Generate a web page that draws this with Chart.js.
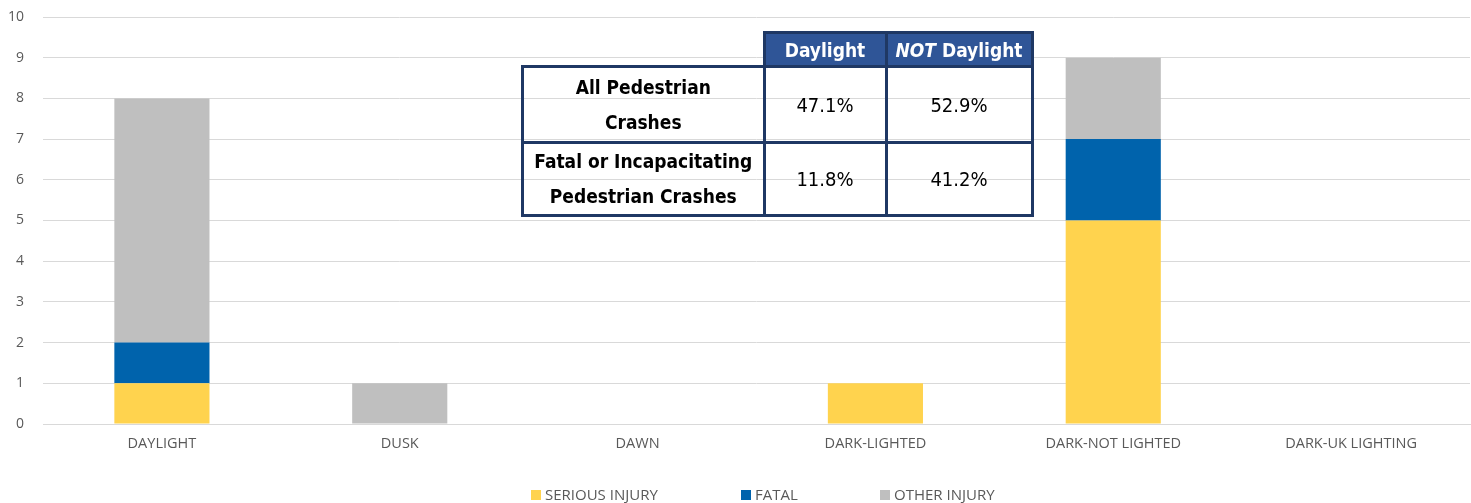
<!DOCTYPE html>
<html><head><meta charset="utf-8">
<script src="https://cdn.jsdelivr.net/npm/chart.js@4/dist/chart.umd.min.js"></script>
<style>
html,body{margin:0;padding:0;background:#fff;}
#wrap{position:relative;width:1471px;height:503px;}
#tbl{position:absolute;left:521px;top:31px;border-collapse:collapse;font-family:"DejaVu Sans Condensed","Liberation Sans Narrow",sans-serif;color:#000;}
#tbl td{border:3px solid #1F3864;text-align:center;padding:0;font-size:20px;}
#tbl td.h{background:#2F5597;color:#fff;font-weight:bold;font-size:19px;height:31px;}
#tbl td.e{border:none;}
#tbl td.r{font-weight:bold;font-size:19px;line-height:35px;}
</style></head>
<body><div id="wrap"><canvas id="c" width="1471" height="503"></canvas>
<table id="tbl">
<tr><td class="e" style="width:240px"></td><td class="h" style="width:119px">Daylight</td><td class="h" style="width:143px"><i>NOT</i> Daylight</td></tr>
<tr><td class="r" style="height:73px">All Pedestrian<br>Crashes</td><td>47.1%</td><td>52.9%</td></tr>
<tr><td class="r" style="height:70px">Fatal or Incapacitating<br>Pedestrian Crashes</td><td>11.8%</td><td>41.2%</td></tr>
</table></div>
<script>
const categories = ["DAYLIGHT","DUSK","DAWN","DARK-LIGHTED","DARK-NOT LIGHTED","DARK-UK LIGHTING"];
const seriousInjury = [1,0,0,1,5,0];
const fatal = [1,0,0,0,2,0];
const otherInjury = [6,1,0,0,2,0];
const seriesNames = ["SERIOUS INJURY","FATAL","OTHER INJURY"];
const seriesColors = ["#FFD34E","#0063AC","#BFBFBF"];
const yTicks = [0,1,2,3,4,5,6,7,8,9,10];

const legendPlugin = {
  id:'customLegend',
  afterDraw(chart){
    const ctx = chart.ctx;
    ctx.save();
    ctx.font = '15px "Open Sans", sans-serif';
    ctx.textBaseline = 'middle';
    const xs = [531, 741, 880];
    const y = 495;
    chart.data.datasets.forEach((ds,i)=>{
      ctx.fillStyle = ds.backgroundColor;
      ctx.fillRect(xs[i], y-5, 10, 10);
      ctx.fillStyle = '#595959';
      ctx.fillText(ds.label, xs[i]+14, y+1);
    });
    ctx.restore();
  }
};

new Chart(document.getElementById('c'), {
  type:'bar',
  data:{
    labels:categories,
    datasets:[
      {label:seriesNames[0], data:seriousInjury, backgroundColor:seriesColors[0]},
      {label:seriesNames[1], data:fatal, backgroundColor:seriesColors[1]},
      {label:seriesNames[2], data:otherInjury, backgroundColor:seriesColors[2]}
    ]
  },
  options:{
    responsive:false, animation:false,
    layout:{padding:{top:17,right:1,left:0,bottom:0}},
    datasets:{bar:{categoryPercentage:1, barPercentage:0.4}},
    plugins:{legend:{display:false}, tooltip:{enabled:false}},
    scales:{
      x:{stacked:true, grid:{display:false, drawTicks:false}, border:{color:'#D9D9D9', width:1},
         ticks:{color:'#595959', font:{family:'"Open Sans", sans-serif', size:14.5}, padding:11, maxRotation:0},
         afterFit(s){ s.height = 79; s.paddingLeft = 0; s.paddingRight = 0; }},
      y:{stacked:true, min:0, max:10, afterBuildTicks(s){ s.ticks = yTicks.map(v=>({value:v})); },
         grid:{color:'#D9D9D9', lineWidth:1, drawTicks:false}, border:{display:false},
         ticks:{color:'#595959', font:{family:'"Open Sans", sans-serif', size:14}, padding:19},
         afterFit(s){ s.width = 43; s.paddingTop = 0; s.paddingBottom = 0; }}
    }
  },
  plugins:[legendPlugin]
});
</script></body></html>
